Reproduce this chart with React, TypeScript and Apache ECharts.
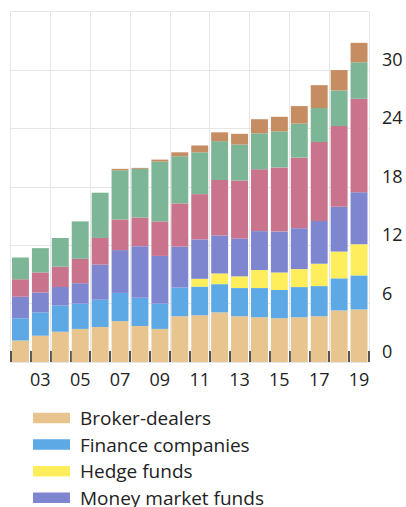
import React, { useEffect, useRef } from "react";
import * as echarts from "echarts";

const years = ["2002","2003","2004","2005","2006","2007","2008","2009","2010","2011","2012","2013","2014","2015","2016","2017","2018","2019"];
const yTicks = [0, 6, 12, 18, 24, 30, 36];

const brokerDealers = [2.2, 2.7, 3.1, 3.4, 3.6, 4.2, 3.7, 3.4, 4.7, 4.8, 5.1, 4.7, 4.6, 4.5, 4.6, 4.7, 5.3, 5.4];
const financeCompanies = [2.3, 2.4, 2.7, 2.6, 2.8, 2.9, 2.9, 2.6, 2.95, 2.95, 2.9, 2.9, 3.0, 2.9, 3.1, 3.1, 3.3, 3.5];
const hedgeFunds = [0, 0, 0, 0, 0, 0, 0, 0, 0, 0.8, 1.1, 1.2, 1.85, 1.8, 1.85, 2.3, 2.75, 3.2];
const moneyMarketFunds = [2.2, 2.05, 1.9, 2.1, 3.6, 4.4, 5.3, 4.9, 4.2, 4.05, 3.9, 3.9, 4.0, 4.2, 4.2, 4.4, 4.6, 5.35];
const otherInvestmentFunds = [1.8, 2.05, 2.1, 2.5, 2.75, 3.15, 2.95, 3.55, 4.45, 4.65, 5.7, 5.95, 6.35, 6.6, 7.25, 8.1, 8.3, 9.6];
const structuredFinanceVehicles = [2.25, 2.5, 2.95, 3.85, 4.65, 5.05, 5.0, 6.15, 4.85, 4.3, 4.0, 3.7, 3.7, 3.7, 3.5, 3.5, 3.65, 3.75];
const trustCompanies = [0, 0, 0, 0, 0, 0.15, 0.1, 0.2, 0.4, 0.7, 0.9, 1.1, 1.45, 1.5, 1.8, 2.35, 2.1, 2.0];

const seriesDefs = [
  { name: "Broker-dealers", data: brokerDealers, color: "#E8C48E" },
  { name: "Finance companies", data: financeCompanies, color: "#5CA9E6" },
  { name: "Hedge funds", data: hedgeFunds, color: "#FFEE5C" },
  { name: "Money market funds", data: moneyMarketFunds, color: "#7E86CF" },
  { name: "Other investment funds", data: otherInvestmentFunds, color: "#C9738D" },
  { name: "Structured finance vehicles", data: structuredFinanceVehicles, color: "#7DB597" },
  { name: "Trust companies", data: trustCompanies, color: "#C68C62" },
];
const legendItems = ["Broker-dealers", "Finance companies", "Hedge funds", "Money market funds"];

const FONT = "'Open Sans', 'Noto Sans', sans-serif";

export default function App() {
  const ref = useRef<HTMLDivElement>(null);
  useEffect(() => {
    document.body.style.margin = "0";
    document.body.style.overflow = "hidden";
    document.documentElement.style.overflow = "hidden";
    if (!ref.current) return;
    const chart = echarts.init(ref.current, undefined, { renderer: "svg" });
    chart.setOption({
      animation: false,
      backgroundColor: "#ffffff",
      grid: { left: 10.5, top: 11.7, width: 358.5, height: 350.3, containLabel: false },
      legend: {
        data: legendItems,
        orient: "vertical",
        left: 33,
        top: 408,
        padding: 0,
        itemWidth: 37,
        itemHeight: 10.5,
        itemGap: 6.6,
        icon: "rect",
        textStyle: { fontFamily: FONT, fontSize: 19, color: "#222", lineHeight: 20, padding: [0, 0, 0, 5] },
      },
      xAxis: {
        type: "category",
        data: years,
        boundaryGap: true,
        axisLine: { show: false },
        axisTick: {
          show: true,
          inside: true,
          length: 11,
          interval: 0,
          lineStyle: { color: "#555", width: 2 },
        },
        axisLabel: {
          interval: (index: number) => index % 2 === 1,
          formatter: (v: string) => v.slice(2),
          fontFamily: FONT,
          fontSize: 18,
          color: "#222",
          margin: 8,
        },
        splitLine: {
          show: true,
          interval: (index: number) => index % 2 === 0,
          lineStyle: { color: "#e6e6e6", width: 1 },
        },
      },
      yAxis: {
        type: "value",
        position: "right",
        min: yTicks[0],
        max: yTicks[yTicks.length - 1],
        interval: 6,
        axisLine: { show: false },
        axisTick: { show: false },
        axisLabel: {
          formatter: (v: number) => (v === 36 ? "" : String(v)),
          fontFamily: FONT,
          fontSize: 18,
          color: "#222",
          margin: 13,
          verticalAlign: "bottom",
          lineHeight: 22,
        },
        splitLine: { show: true, lineStyle: { color: "#e6e6e6", width: 1 } },
      },
      series: seriesDefs.map((s) => ({
        name: s.name,
        type: "bar",
        stack: "total",
        data: s.data,
        barWidth: "85%",
        itemStyle: { color: s.color },
        emphasis: { disabled: true },
      })),
    });
    return () => chart.dispose();
  }, []);
  return <div ref={ref} style={{ width: 406, height: 560 }} />;
}
